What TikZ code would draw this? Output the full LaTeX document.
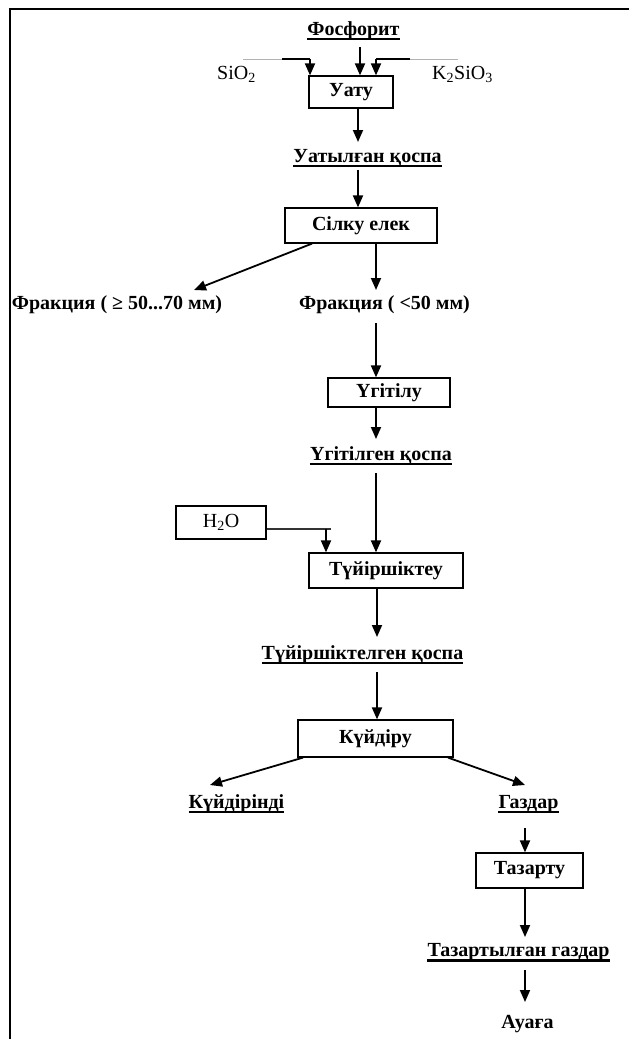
\documentclass[tikz,border=0pt]{standalone}
\usepackage{fontspec}
\setmainfont{Liberation Serif}
\usetikzlibrary{arrows.meta}
\tikzset{
  lbl/.style={font=\fontsize{20}{23}\selectfont\bfseries, inner sep=0pt, anchor=base},
  reg/.style={font=\fontsize{20}{23}\selectfont, inner sep=0pt, anchor=base},
  box/.style={draw, line width=1.2pt, inner sep=0pt, font=\fontsize{20}{23}\selectfont\bfseries},
  arr/.style={line width=1.8pt, -{Triangle[length=12pt,width=10pt]}},
  feed/.style={line width=1.8pt},
  thinfeed/.style={line width=0.6pt, gray!60},
  ul/.style={line width=1.7pt},
  frame/.style={line width=2.8pt},
}
\begin{document}
\begin{tikzpicture}[x=1pt,y=-1pt]
\useasboundingbox (0,0) rectangle (629,1039);
% frame
\coordinate (fTR) at (629,9);
\coordinate (fTL) at (10,9);
\coordinate (fBL) at (10,1039);
\draw[frame] (fTR) -- (fTL) -- (fBL);

% boxes
\node[box, minimum width=84pt, minimum height=32pt] (uatu) at (351,92) {Уату};
\node[box, minimum width=152pt, minimum height=35pt] (silku) at (361,225.5) {Сілку елек};
\node[box, minimum width=122pt, minimum height=29pt] (ugitilu) at (389,392.5) {Үгітілу};
\node[box, minimum width=90pt, minimum height=33pt, font=\fontsize{20}{23}\selectfont] (h2o) at (221,522.5) {H\textsubscript{2}O};
\node[box, minimum width=154pt, minimum height=35pt] (tuyir) at (386,570.5) {Түйіршіктеу};
\node[box, minimum width=155pt, minimum height=37pt] (kuydiru) at (375.5,738.5) {Күйдіру};
\node[box, minimum width=107pt, minimum height=35pt] (tazartu) at (529.5,870.5) {Тазарту};

% text labels
\node[lbl] (fos) at (353.5,35) {Фосфорит};
\node[reg] (sio) at (236.5,79) {SiO\textsubscript{2}};
\node[reg] (ksio) at (462.5,79) {K\textsubscript{2}SiO\textsubscript{3}};
\node[lbl] (uatq) at (367.5,162) {Уатылған қоспа};
\node[lbl] (frac1) at (117,309) {Фракция ( ≥ 50...70 мм)};
\node[lbl] (frac2) at (384.5,309) {Фракция ( <50 мм)};
\node[lbl] (ugq) at (381,460) {Үгітілген қоспа};
\node[lbl] (tuyq) at (362.5,659) {Түйіршіктелген қоспа};
\node[lbl] (kuyd) at (236.5,808) {Күйдірінді};
\node[lbl] (gaz) at (528.5,808) {Газдар};
\node[lbl] (tazq) at (518.5,956) {Тазартылған газдар};
\node[lbl] (auaga) at (527.5,1028) {Ауаға};

\foreach \n in {fos,uatq,ugq,tuyq,kuyd,gaz}
  \draw[ul] ([yshift=-4pt]\n.base west) -- ([yshift=-4pt]\n.base east);
\draw[ul, line width=2.4pt] ([yshift=-4.5pt]tazq.base west) -- ([yshift=-4.5pt]tazq.base east);

% free-end coordinates
\coordinate (fosS) at (360,47);
\coordinate (lgA) at (243,59);
\coordinate (lgB) at (282,59);
\coordinate (lC) at (310,59);
\coordinate (rgA) at (458,59);
\coordinate (rgB) at (410,59);
\coordinate (rC) at (376,59);
\coordinate (uatqS) at (358,170);
\coordinate (fracTip1) at (194,290);
\coordinate (frac2S) at (376,323);
\coordinate (ugqS) at (376,473);
\coordinate (h2oJ) at (331,529);
\coordinate (h2oC) at (326,529);
\coordinate (tuyqS) at (377,672);
\coordinate (kuydTip) at (210,785);
\coordinate (gazTip) at (525,785);
\coordinate (gazS) at (525,828);
\coordinate (tazqS) at (525,970);

% arrows
\draw[arr] (fosS) -- (fosS |- uatu.north);
\draw[thinfeed] (lgA) -- (lgB);
\draw[feed] (lgB) -- (lC);
\draw[arr] (lC) -- (lC |- uatu.north);
\draw[thinfeed] (rgA) -- (rgB);
\draw[feed] (rgB) -- (rC);
\draw[arr] (rC) -- (rC |- uatu.north);
\draw[arr] (uatqS |- uatu.south) -- (358,142 -| uatqS);
\draw[arr] (uatqS) -- (uatqS |- silku.north);
\draw[arr] (frac2S |- silku.south) -- (376,290 -| frac2S);
\draw[arr] (312,0 |- silku.south) -- (fracTip1);
\draw[arr] (frac2S) -- (frac2S |- ugitilu.north);
\draw[arr] (frac2S |- ugitilu.south) -- (376,439 -| frac2S);
\draw[arr] (ugqS) -- (ugqS |- tuyir.north);
\draw[line width=1.3pt, black!80] (h2o.east |- h2oJ) -- (h2oJ);
\draw[arr] (h2oC) -- (h2oC |- tuyir.north);
\draw[arr] (tuyqS |- tuyir.south) -- (377,637 -| tuyqS);
\draw[arr] (tuyqS) -- (tuyqS |- kuydiru.north);
\draw[arr] (303,0 |- kuydiru.south) -- (kuydTip);
\draw[arr] (448,0 |- kuydiru.south) -- (gazTip);
\draw[arr] (gazS) -- (gazS |- tazartu.north);
\draw[arr] (gazS |- tazartu.south) -- (525,937 -| gazS);
\draw[arr] (tazqS) -- (525,1002 -| tazqS);
\end{tikzpicture}
\end{document}
